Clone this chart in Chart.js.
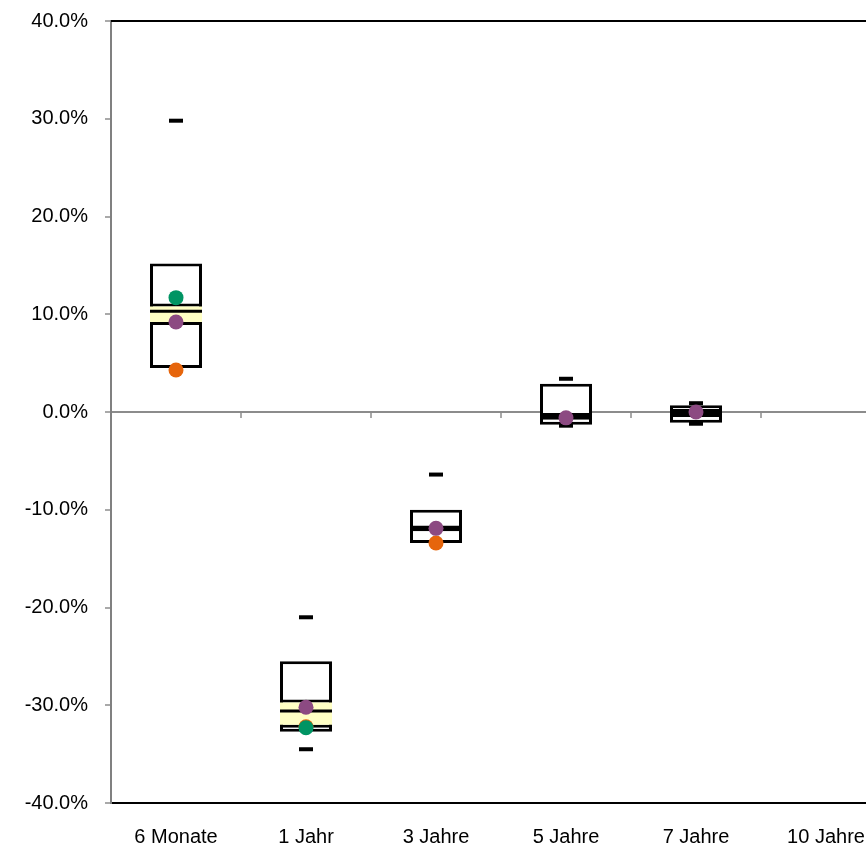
<!DOCTYPE html>
<html>
<head>
<meta charset="utf-8">
<script src="https://cdn.jsdelivr.net/npm/chart.js@4/dist/chart.umd.min.js"></script>
<style>
  html, body { margin: 0; padding: 0; background: #fff; overflow: hidden; }
  #wrap { width: 900px; height: 849px; }
</style>
</head>
<body>
<div id="wrap"><canvas id="chart" width="900" height="849"></canvas></div>
<script>
"use strict"

// categories (x axis)
const categories = ['6 Monate', '1 Jahr', '3 Jahre', '5 Jahre', '7 Jahre', '10 Jahre'];

// whisker ends (short dashes), in %
const maxVals = [29.8, -21.0, -6.4, 3.4, 0.9, null];
const minVals = [4.3, -34.5, -13.4, -1.4, -1.2, null];

// outer box, in %
const boxHigh = [15.2, -25.5, -10.0, 2.9, 0.7, null];
const boxLow = [4.5, -32.7, -13.4, -1.3, -1.1, null];

// yellow band and its centre line, in %
const bandHigh = [11.1, -29.4, -11.6, 0.0, 0.3, null];
const bandLow = [8.9, -32.3, -12.2, -0.8, -0.5, null];
const median = [10.3, -30.6, -11.9, -0.4, -0.1, null];

// single points, in %
const greenVals = [11.7, -32.3, null, null, null, null];
const purpleVals = [9.2, -30.2, -11.9, -0.6, 0.0, null];
const orangeVals = [4.3, -32.2, -13.4, null, null, null];

// y axis
const yMin = -40;
const yMax = 40;
const yStep = 10;

function pairs(lo, hi){
    return lo.map(function(v, i){
        return (v == null || hi[i] == null) ? null : [v, hi[i]];
    });
}

// grey tick marks on the zero line between the categories
const zeroTicks = {
    id: 'zeroTicks',
    afterDatasetsDraw: function(chart){
        const x = chart.scales.x;
        const y = chart.scales.y;
        const ctx = chart.ctx;
        const y0 = y.getPixelForValue(0);
        ctx.save();
        ctx.strokeStyle = '#8c8c8c';
        ctx.lineWidth = 1.5;
        for (let i = 0; i < categories.length - 1; i++){
            const xp = (x.getPixelForValue(i) + x.getPixelForValue(i + 1)) / 2;
            ctx.beginPath();
            ctx.moveTo(xp, y0);
            ctx.lineTo(xp, y0 + 6);
            ctx.stroke();
        }
        ctx.restore();
    }
};

// black top frame line
const topFrame = {
    id: 'topFrame',
    afterDraw: function(chart){
        const a = chart.chartArea;
        const ctx = chart.ctx;
        ctx.save();
        ctx.strokeStyle = '#000';
        ctx.lineWidth = 2;
        ctx.beginPath();
        ctx.moveTo(a.left, a.top);
        ctx.lineTo(a.right, a.top);
        ctx.stroke();
        ctx.restore();
    }
};

function dotSet(label, data, color, order){
    return {
        type: 'line',
        label: label,
        data: data,
        showLine: false,
        pointStyle: 'circle',
        pointRadius: 7.5,
        pointBackgroundColor: color,
        pointBorderWidth: 0,
        borderColor: color,
        order: order
    };
}

function dashSet(label, data, radius, width, order){
    return {
        type: 'line',
        label: label,
        data: data,
        showLine: false,
        pointStyle: 'line',
        pointRadius: radius,
        pointBorderColor: '#000',
        pointBorderWidth: width,
        borderColor: '#000',
        order: order
    };
}

new Chart('chart', {
    data: {
        labels: categories,
        datasets: [
            {
                type: 'bar',
                label: 'Box',
                data: pairs(boxLow, boxHigh),
                backgroundColor: '#ffffff',
                borderColor: '#000',
                borderWidth: 3,
                borderSkipped: false,
                grouped: false,
                categoryPercentage: 1,
                barPercentage: 0.4,
                order: 10
            },
            {
                type: 'bar',
                label: 'Band',
                data: pairs(bandLow, bandHigh),
                backgroundColor: '#ffffc4',
                borderColor: '#000',
                borderWidth: {top: 3, bottom: 3, left: 0, right: 0},
                borderSkipped: false,
                grouped: false,
                categoryPercentage: 1,
                barPercentage: 0.4,
                order: 9
            },
            dashSet('Median', median, 26, 3, 8),
            dashSet('Max', maxVals, 7, 4, 7),
            dashSet('Min', minVals, 7, 4, 7),
            dotSet('Orange', orangeVals, '#e6650c', 4),
            dotSet('Lila', purpleVals, '#8c4a82', 3),
            dotSet('Gruen', greenVals, '#009463', 2)
        ]
    },
    plugins: [zeroTicks, topFrame],
    options: {
        responsive: false,
        animation: false,
        events: [],
        layout: {
            autoPadding: false,
            padding: {top: 21, right: 9, bottom: 0, left: 0}
        },
        plugins: {
            legend: {display: false},
            tooltip: {enabled: false}
        },
        scales: {
            x: {
                type: 'category',
                offset: true,
                grid: {display: false, drawTicks: false},
                border: {display: true, color: '#000', width: 2},
                ticks: {
                    color: '#000',
                    padding: 22,
                    maxRotation: 0,
                    autoSkip: false,
                    font: {family: 'Liberation Sans, Arial, sans-serif', size: 20}
                },
                afterFit: function(s){
                    s.height = 46;
                    s.paddingLeft = 0;
                    s.paddingRight = 0;
                }
            },
            y: {
                min: yMin,
                max: yMax,
                grid: {
                    color: function(c){ return c.tick && c.tick.value === 0 ? '#8c8c8c' : 'rgba(0,0,0,0)'; },
                    lineWidth: 2,
                    tickColor: '#8c8c8c',
                    tickLength: 6,
                    tickWidth: 1.5
                },
                border: {display: true, color: '#808080', width: 2},
                ticks: {
                    stepSize: yStep,
                    color: '#000',
                    padding: 17,
                    font: {family: 'Liberation Sans, Arial, sans-serif', size: 20},
                    callback: function(v){ return v.toFixed(1) + '%'; }
                },
                afterFit: function(s){
                    s.width = 111;
                    s.paddingTop = 0;
                    s.paddingBottom = 0;
                }
            }
        }
    }
});
</script>
</body>
</html>
